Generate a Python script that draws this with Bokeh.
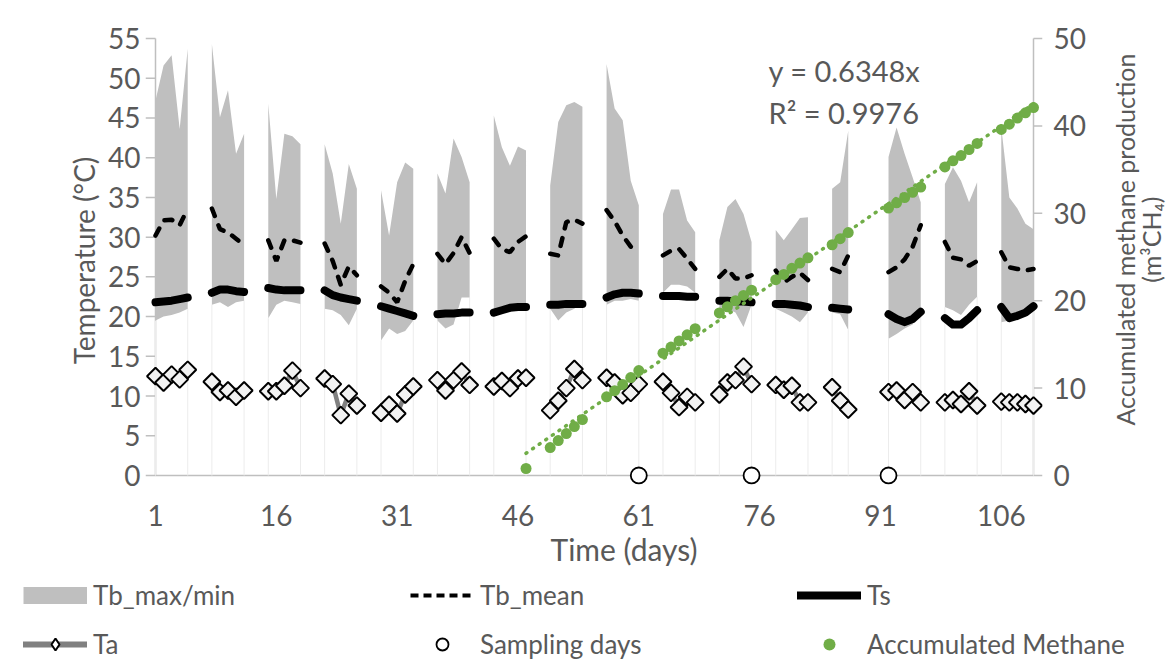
import math
import numpy as np
from bokeh.plotting import figure
from bokeh.layouts import column, row
from bokeh.models import Range1d, LinearAxis, Legend, LegendItem, Label, FixedTicker, Title
from bokeh.embed import file_html
from bokeh.resources import INLINE

# ---------------- data ----------------
days = [1, 2, 3, 4, 5, 8, 9, 10, 11, 12, 15, 16, 17, 18, 19, 22, 23, 24, 25, 26,
        29, 30, 31, 32, 33, 36, 37, 38, 39, 40, 43, 44, 45, 46, 47, 50, 51, 52, 53, 54,
        57, 58, 59, 60, 61, 64, 65, 66, 67, 68, 71, 72, 73, 74, 75, 78, 79, 80, 81, 82,
        85, 86, 87, 92, 93, 94, 95, 96, 99, 100, 101, 102, 103, 106, 107, 108, 109, 110]

tb_max = [47.2, 51.6, 52.9, 43.6, 53.7, 54.3, 45.1, 48.5, 40.5, 43.0,
          46.8, 34.8, 43.0, 42.7, 41.7, 41.7, 38.0, 31.7, 39.2, 36.1,
          35.9, 30.2, 36.9, 39.4, 38.6, 38.0, 35.5, 42.4, 40.1, 36.9,
          45.3, 41.3, 39.0, 41.4, 40.9, 36.5, 44.5, 46.6, 47.0, 46.4,
          51.8, 46.2, 44.7, 37.1, 34.0, 32.9, 36.0, 36.0, 32.1, 30.6,
          29.6, 33.8, 34.8, 32.9, 29.4, 30.9, 29.6, 31.0, 32.4, 32.5,
          36.1, 36.9, 43.4, 40.1, 43.8, 40.5, 37.5, 34.4,
          36.7, 38.8, 37.1, 34.4, 36.9, 43.8, 35.0, 33.6, 31.7, 31.0]

tb_min = [19.5, 20.0, 20.2, 20.5, 21.0, 21.5, 21.8, 21.2, 21.8, 22.0,
          19.8, 21.5, 22.0, 21.8, 21.6, 21.0, 20.8, 20.2, 18.9, 21.0,
          17.0, 18.5, 17.8, 18.2, 19.5, 19.5, 18.5, 19.0, 22.4, 22.4,
          20.0, 20.5, 20.8, 21.0, 20.8, 21.0, 19.5, 20.5, 21.0, 22.0,
          21.5, 22.0, 22.0, 22.2, 22.0, 23.0, 24.0, 24.0, 23.8, 23.0,
          21.0, 21.0, 20.5, 18.7, 21.5, 21.0, 20.5, 20.0, 19.3, 20.5,
          20.5, 20.3, 18.3, 17.2, 17.8, 18.5, 19.0, 21.0,
          21.2, 20.8, 20.2, 21.5, 22.5, 19.3, 19.5, 20.0, 20.5, 21.5]

tb_mean = [30.2, 32.1, 32.2, 31.5, 33.6, 33.6, 31.0, 30.6, 29.8, 29.0,
           29.6, 27.0, 29.6, 29.6, 29.3, 29.2, 27.0, 24.0, 26.3, 25.2,
           23.8, 23.0, 21.8, 24.5, 26.6, 27.9, 26.6, 28.0, 30.0, 28.0,
           29.8, 28.5, 28.1, 29.4, 30.1, 27.9, 27.7, 31.9, 32.2, 31.7,
           33.4, 32.0, 30.2, 28.8, 28.3, 27.7, 28.3, 28.5, 27.3, 26.0,
           25.0, 26.0, 24.8, 24.8, 25.2, 25.8, 24.3, 25.0, 25.5, 24.6,
           26.0, 25.6, 27.7, 25.6, 26.2, 27.2, 28.8, 31.5,
           29.4, 27.4, 27.2, 26.4, 27.0, 28.1, 26.2, 26.0, 25.8, 26.0]

ts = [21.8, 21.9, 22.0, 22.2, 22.4, 23.0, 23.4, 23.4, 23.2, 23.1,
      23.6, 23.4, 23.3, 23.3, 23.3, 23.3, 22.7, 22.4, 22.2, 22.0,
      21.3, 21.0, 20.7, 20.4, 20.1, 20.3, 20.4, 20.4, 20.5, 20.5,
      20.5, 20.8, 21.1, 21.2, 21.2, 21.5, 21.5, 21.6, 21.6, 21.6,
      22.4, 22.8, 23.0, 23.0, 22.9, 22.6, 22.6, 22.6, 22.5, 22.5,
      22.0, 22.0, 21.9, 21.9, 21.8, 21.6, 21.6, 21.5, 21.4, 21.2,
      21.1, 21.0, 20.9, 20.3, 19.7, 19.3, 19.7, 20.6,
      19.8, 19.0, 19.0, 19.8, 20.8, 21.2, 19.8, 20.1, 20.5, 21.3]

ta = [12.5, 11.7, 12.7, 12.1, 13.3, 11.8, 10.5, 10.7, 9.9, 10.7,
      10.6, 10.6, 11.3, 13.2, 11.0, 12.2, 11.5, 7.6, 10.3, 8.8,
      7.9, 8.9, 7.8, 10.2, 11.2, 12.0, 10.7, 12.0, 13.1, 11.4,
      11.2, 11.9, 11.0, 12.2, 12.3, 8.2, 9.4, 11.0, 13.4, 12.0,
      12.3, 11.7, 10.1, 10.4, 11.5, 11.8, 10.4, 8.6, 9.9, 9.2,
      10.2, 11.7, 12.0, 13.7, 11.5, 11.4, 10.8, 11.3, 9.2, 9.2,
      11.1, 9.4, 8.3, 10.5, 10.7, 9.5, 10.5, 9.2,
      9.2, 9.5, 9.0, 10.6, 8.8, 9.3, 9.2, 9.2, 9.0, 8.8]

methane_days = [47, 50, 51, 52, 53, 54, 57, 58, 59, 60, 61, 64, 65, 66, 67, 68,
                71, 72, 73, 74, 75, 78, 79, 80, 81, 82, 85, 86, 87,
                92, 93, 94, 95, 96, 99, 100, 101, 102, 103, 106, 107, 108, 109, 110]
methane = [0.8, 3.2, 4.0, 4.8, 5.6, 6.4, 9.0, 9.7, 10.4, 11.2, 12.0,
           14.0, 14.7, 15.4, 16.1, 16.8, 18.6, 19.3, 20.0, 20.6, 21.2,
           22.4, 23.0, 23.7, 24.3, 24.9, 26.4, 27.1, 27.8,
           30.6, 31.2, 31.8, 32.4, 33.0, 35.3, 36.0, 36.6, 37.3, 38.0,
           39.6, 40.2, 40.9, 41.5, 42.1]

sampling_days = [61, 75, 92]
sampling_vals = [0, 0, 0]

trend_slope = 0.6348      # y = 0.6348x (x counted from the series origin)
trend_origin_day = 43
x_ticks = [1, 16, 31, 46, 61, 76, 91, 106]
y_ticks = [0, 5, 10, 15, 20, 25, 30, 35, 40, 45, 50, 55]
y2_ticks = [0, 10, 20, 30, 40, 50]
X_START, X_END = 1, 110
Y_START, Y_END = 0, 55
Y2_START, Y2_END = 0, 50

# ---------------- layout constants (pixels) ----------------
FONT = "Lato"
TXT = "#595959"
GRAY_AX = "#bfbfbf"
BAND = "#bfbfbf"
GREEN = "#70ad47"
PLOT_W, PLOT_H = 878, 437          # axis-to-axis size
PAD_L, PAD_R, PAD_T, PAD_B = 10, 9, 2, 9
AX_LEFT, AX_TOP = 155, 38          # pixel position of the left axis and of the top tick
MAIN_W, MAIN_H = 1100, 578
TOTAL_W, TOTAL_H = 1166, 669
px_x = PLOT_W / (X_END - X_START)
px_y = PLOT_H / (Y_END - Y_START)
px_y2 = PLOT_H / (Y2_END - Y2_START)


def with_breaks(xs, ys):
    X, Y = [], []
    for i, (x, y) in enumerate(zip(xs, ys)):
        if i and x - xs[i - 1] > 1:
            X.append(np.nan)
            Y.append(np.nan)
        X.append(x)
        Y.append(y)
    return X, Y


def groups(xs):
    out, cur = [], [0]
    for i in range(1, len(xs)):
        if xs[i] - xs[i - 1] > 1:
            out.append(cur)
            cur = []
        cur.append(i)
    out.append(cur)
    return out


xr = Range1d(X_START - PAD_L / px_x, X_END + PAD_R / px_x)
yr = Range1d(Y_START - PAD_B / px_y, Y_END + PAD_T / px_y)
left_b = AX_LEFT - PAD_L
top_b = AX_TOP - PAD_T
right_b = MAIN_W - left_b - (PLOT_W + PAD_L + PAD_R)
bottom_b = MAIN_H - top_b - (PLOT_H + PAD_T + PAD_B)
p = figure(width=MAIN_W, height=MAIN_H, x_range=xr, y_range=yr,
           output_backend="svg", toolbar_location=None,
           min_border_left=left_b, min_border_right=right_b,
           min_border_top=top_b, min_border_bottom=bottom_b)
p.extra_y_ranges = {"m": Range1d(Y2_START - PAD_B / px_y2, Y2_END + PAD_T / px_y2)}
p.xgrid.visible = False
p.ygrid.visible = False
p.outline_line_color = None
p.background_fill_color = "white"
p.border_fill_color = "white"

# axis lines and tick marks drawn inside the padded frame
p.segment(x0=[X_START, X_START], y0=[Y_START, Y_START], x1=[X_END, X_START], y1=[Y_START, Y_END],
          line_color=GRAY_AX, line_width=1.5)
p.segment(x0=[X_END], y0=[Y2_START], x1=[X_END], y1=[Y2_END], y_range_name="m",
          line_color=GRAY_AX, line_width=1.5)
p.segment(x0=[X_START] * len(y_ticks), y0=y_ticks, x1=[xr.start] * len(y_ticks), y1=y_ticks,
          line_color=GRAY_AX, line_width=1.5)
p.segment(x0=[X_END] * len(y2_ticks), y0=y2_ticks, x1=[xr.end] * len(y2_ticks), y1=y2_ticks,
          y_range_name="m", line_color=GRAY_AX, line_width=1.5)

# band Tb max/min
for g in groups(days):
    gx = [days[i] for i in g]
    edge_x = [gx[0], gx[-1]]
    edge_y = [tb_min[g[0]], tb_min[g[-1]]]
    p.segment(x0=edge_x, y0=[Y_START, Y_START], x1=edge_x, y1=edge_y, line_color="#ececec", line_width=1)
    p.varea(x=gx, y1=[tb_min[i] for i in g], y2=[tb_max[i] for i in g],
            fill_color=BAND, fill_alpha=1.0)

STY_MEAN = dict(line_color="black", line_width=4.5, line_dash="8 10", line_cap="round")
STY_TS = dict(line_color="black", line_width=8, line_cap="round", line_join="round")
STY_TA_L = dict(line_color="#808080", line_width=4.5)
STY_TA_P = dict(marker="square", angle=math.pi / 4, size=12, fill_color="#f2f2f2",
                line_color="black", line_width=2)
STY_SAMP = dict(marker="circle", size=16, fill_color="white", line_color="black", line_width=1.8)
STY_METH = dict(marker="circle", size=11, fill_color=GREEN, line_color=GREEN, line_width=0)

mx, my = with_breaks(days, tb_mean)
p.line(mx, my, **STY_MEAN)

sx, sy = with_breaks(days, ts)
p.line(sx, sy, **STY_TS)

ax_, ay_ = with_breaks(days, ta)
p.line(ax_, ay_, **STY_TA_L)
p.scatter(days, ta, **STY_TA_P)

p.scatter(sampling_days, sampling_vals, **STY_SAMP)

tx = [methane_days[0], methane_days[-1]]
ty = [trend_slope * (d - trend_origin_day) for d in tx]
p.line(tx, ty, y_range_name="m", line_color=GREEN, line_width=3.5,
       line_dash="1 7", line_cap="round")
p.scatter(methane_days, methane, y_range_name="m", **STY_METH)


# axes (labels only; lines drawn above)
def style_axis(a):
    a.axis_line_color = None
    a.major_tick_line_color = None
    a.minor_tick_line_color = None
    a.major_tick_out = 0
    a.major_tick_in = 0
    a.major_label_text_color = TXT
    a.major_label_text_font = FONT
    a.major_label_text_font_size = "28px"
    a.axis_label_text_color = TXT
    a.axis_label_text_font = FONT
    a.axis_label_text_font_size = "28px"
    a.axis_label_text_font_style = "normal"


xa = p.xaxis[0]
style_axis(xa)
xa.ticker = FixedTicker(ticks=x_ticks)
xa.major_label_standoff = 20

ya = p.yaxis[0]
style_axis(ya)
ya.ticker = FixedTicker(ticks=y_ticks)
ya.major_label_standoff = 5
ya.axis_label = "Temperature (°C)"
ya.axis_label_standoff = 4

ra = LinearAxis(y_range_name="m")
style_axis(ra)
ra.ticker = FixedTicker(ticks=y2_ticks)
ra.major_label_standoff = 11
p.add_layout(ra, "right")

xt = Title(text="Time (days)", align="left", offset=550 - left_b,
           text_font=FONT, text_font_size="30px", text_color=TXT,
           text_font_style="normal", standoff=0)
p.add_layout(xt, "below")

eq_kw = dict(text_color=TXT, text_font=FONT, text_font_size="29px",
             text_align="left", text_baseline="middle")
p.add_layout(Label(x=77.1, y=51.0, text="y = 0.6348x", **eq_kw))
p.add_layout(Label(x=77.1, y=45.7, text="R² = 0.9976", **eq_kw))

# ---------------- right axis title panel ----------------
RW = TOTAL_W - MAIN_W
pr = figure(width=RW, height=MAIN_H, x_range=Range1d(0, RW), y_range=Range1d(0, MAIN_H),
            output_backend="svg", toolbar_location=None, min_border=0,
            x_axis_type=None, y_axis_type=None)
pr.outline_line_color = None
pr.xgrid.visible = False
pr.ygrid.visible = False
rt_kw = dict(text_color=TXT, text_font=FONT, text_font_size="25px",
             text_align="center", text_baseline="middle", angle=math.pi / 2)
pr.add_layout(Label(x=1124 - MAIN_W, y=MAIN_H - 262, text="Accumulated methane production", **rt_kw))
pr.add_layout(Label(x=1150 - MAIN_W, y=MAIN_H - 262, text="(m³CH₄)", **rt_kw))

# ---------------- legend panel ----------------
LH = TOTAL_H - MAIN_H
pl = figure(width=TOTAL_W, height=LH, x_range=Range1d(0, TOTAL_W), y_range=Range1d(0, LH),
            output_backend="svg", toolbar_location=None, min_border=0,
            x_axis_type=None, y_axis_type=None)
pl.outline_line_color = None
pl.xgrid.visible = False
pl.ygrid.visible = False
NA = [np.nan]   # legend proxies: styled like the series, nothing drawn in the panel
lg_band = pl.line(x=NA, y=NA, line_color=BAND, line_width=17)
lg_mean = pl.line(x=NA, y=NA, line_color="black", line_width=4, line_dash="8 5")
lg_ts = pl.line(x=NA, y=NA, **STY_TS)
lg_ta_l = pl.line(x=NA, y=NA, line_color="#808080", line_width=6, line_cap="round")
lg_ta_p = pl.scatter(x=NA, y=NA, marker="diamond", fill_color="white",
                     line_color="black", line_width=2)
lg_samp = pl.scatter(x=NA, y=NA, **STY_SAMP)
lg_meth = pl.scatter(x=NA, y=NA, **STY_METH)

GLYPH_H, SPACING = 30, 17
ROW1_Y = 598 - MAIN_H              # centre of the first legend row below the panel top
legend = Legend(items=[
    LegendItem(label="Tb_max/min", renderers=[lg_band]),
    LegendItem(label="Tb_mean", renderers=[lg_mean]),
    LegendItem(label="Ts", renderers=[lg_ts]),
    LegendItem(label="Ta", renderers=[lg_ta_l, lg_ta_p]),
    LegendItem(label="Sampling days", renderers=[lg_samp]),
    LegendItem(label="Accumulated Methane", renderers=[lg_meth]),
], orientation="horizontal", ncols=3,
    location=(23, LH - (ROW1_Y - GLYPH_H // 2) - (2 * GLYPH_H + SPACING)),
    glyph_width=64, glyph_height=GLYPH_H, label_width=300, label_height=GLYPH_H, spacing=SPACING,
    padding=0, margin=0, border_line_color=None, background_fill_alpha=0,
    label_text_font=FONT, label_text_font_size="26px", label_text_color=TXT, label_standoff=6)
pl.add_layout(legend)

layout = column(row(p, pr), pl)
open("out.html", "w").write(file_html(layout, INLINE))
